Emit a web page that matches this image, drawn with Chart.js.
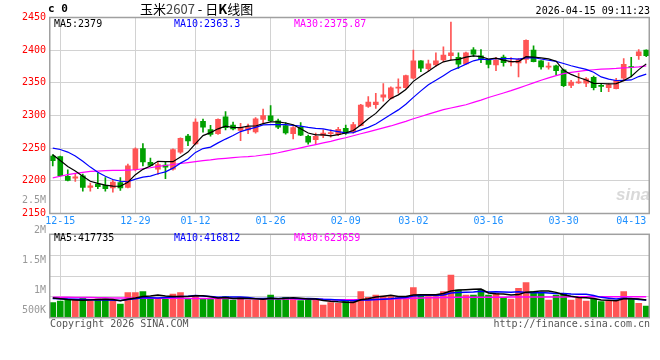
<!DOCTYPE html>
<html>
<head>
<meta charset="utf-8">
<script src="https://cdn.jsdelivr.net/npm/chart.js@4.4.1/dist/chart.umd.min.js"></script>
<style>
html, body { margin: 0; padding: 0; background: #fff; }
#wrap { position: relative; width: 660px; height: 360px; overflow: hidden; background: #fff; }
#kline { position: absolute; left: 0; top: 0; }
#vol { position: absolute; left: 0; top: 190px; }
.t { position: absolute; white-space: nowrap; font-family: "DejaVu Sans Mono", monospace; font-size: 10px; line-height: 12px; color: #000; }
.cjk { font-family: "Noto Sans CJK SC", sans-serif; }
</style>
</head>
<body>
<div id="wrap">
  <canvas id="kline" width="660" height="232"></canvas>
  <canvas id="vol" width="660" height="170"></canvas>

  <div class="t" style="left:48px;top:3px;font-size:11px;font-weight:bold;">c 0</div>
  <div class="t cjk" style="left:140px;top:1px;font-size:13px;line-height:16px;">玉米<span style="color:#444">2607</span> - 日<b>K</b>线图</div>
  <div class="t" style="right:10px;top:5px;">2026-04-15 09:11:23</div>

  <div class="t" style="left:54px;top:18px;color:#000;">MA5:2379</div>
  <div class="t" style="left:174px;top:18px;color:#0000ff;">MA10:2363.3</div>
  <div class="t" style="left:294px;top:18px;color:#ff00ff;">MA30:2375.87</div>

  <div class="t" style="left:54px;top:232px;color:#000;">MA5:417735</div>
  <div class="t" style="left:174px;top:232px;color:#0000ff;">MA10:416812</div>
  <div class="t" style="left:294px;top:232px;color:#ff00ff;">MA30:623659</div>

  <div class="t" style="left:616px;top:186px;font-family:'Liberation Sans',sans-serif;font-size:17px;line-height:18px;font-style:italic;font-weight:bold;color:rgba(170,170,170,0.45);">sina</div>

  <div class="t" style="left:50px;top:318px;color:#555;">Copyright 2026 SINA.COM</div>
  <div class="t" style="right:10px;top:318px;color:#555;">http://finance.sina.com.cn</div>
</div>

<script>
// trading days shown
const dates = [
  '12-12', '12-15', '12-16', '12-17', '12-18', '12-19', '12-22', '12-23', '12-24', '12-25',
  '12-26', '12-29', '12-30', '12-31', '01-05', '01-06', '01-07', '01-08', '01-09', '01-12',
  '01-13', '01-14', '01-15', '01-16', '01-19', '01-20', '01-21', '01-22', '01-23', '01-26',
  '01-27', '01-28', '01-29', '01-30', '02-02', '02-03', '02-04', '02-05', '02-06', '02-09',
  '02-10', '02-11', '02-12', '02-13', '02-24', '02-25', '02-26', '02-27', '03-02', '03-03',
  '03-04', '03-05', '03-06', '03-09', '03-10', '03-11', '03-12', '03-13', '03-16', '03-17',
  '03-18', '03-19', '03-20', '03-23', '03-24', '03-25', '03-26', '03-27', '03-30', '03-31',
  '04-01', '04-02', '04-03', '04-07', '04-08', '04-09', '04-10', '04-13', '04-14', '04-15'
];

const opens = [
  2238, 2237, 2207, 2204, 2207.5, 2190, 2195, 2193, 2189, 2197.5,
  2190, 2217, 2249.5, 2228.5, 2218, 2224, 2218, 2244, 2268.5, 2256.5,
  2291, 2278.5, 2272, 2298, 2285.5, 2277, 2278, 2275, 2294, 2299.5,
  2292, 2284.5, 2272, 2282, 2268, 2263, 2269.5, 2272, 2271, 2280.5,
  2275, 2284.5, 2314, 2316.5, 2328, 2326, 2342, 2342.5, 2357, 2383.5,
  2371.5, 2377.5, 2385, 2391.5, 2389, 2379, 2400.5, 2391.5, 2384.5, 2377.5,
  2389.5, 2381.5, 2380.5, 2386, 2400, 2383.5, 2374, 2376, 2370, 2346,
  2350, 2349.5, 2358.5, 2345.5, 2342.5, 2341, 2357, 2374.5, 2391.5, 2400
];
const highs = [
  2240, 2238, 2217, 2210, 2210.5, 2196.5, 2212, 2205, 2201.5, 2205,
  2225.5, 2250.5, 2257, 2235, 2229, 2229, 2249, 2266, 2271, 2295,
  2294.5, 2285, 2295, 2306, 2290, 2288, 2287, 2297, 2310, 2315,
  2294.5, 2289, 2283, 2289, 2270, 2273, 2278, 2278, 2282, 2285.5,
  2289.5, 2317, 2329, 2334, 2349, 2344, 2356, 2362, 2400, 2384,
  2385, 2396, 2405, 2443, 2396, 2397, 2404, 2401, 2386, 2389,
  2392.5, 2388.5, 2387.5, 2416, 2406.5, 2384, 2381, 2377, 2371, 2354,
  2365, 2358, 2360.5, 2348, 2349, 2357, 2387, 2389, 2401, 2400.5
];
const lows = [
  2223, 2207, 2200, 2199, 2184, 2184, 2188, 2184, 2182.5, 2185.5,
  2189, 2215, 2223, 2223, 2210, 2203.5, 2216.5, 2242, 2254, 2255.5,
  2274.5, 2268.5, 2271, 2278, 2278, 2261.5, 2272, 2273, 2288, 2290.5,
  2280, 2271.5, 2264, 2269, 2256, 2257, 2266, 2267, 2269, 2271,
  2273, 2284, 2312.5, 2311, 2322, 2325, 2334, 2341.5, 2356, 2367,
  2368, 2375, 2382, 2385, 2372, 2378, 2390.5, 2381, 2373, 2368.5,
  2375.5, 2376, 2359, 2380, 2382, 2371, 2371, 2362, 2344, 2342.5,
  2349, 2344, 2339, 2336.5, 2336.5, 2340.5, 2353, 2359, 2386, 2390
];
const closes = [
  2231, 2208, 2200.5, 2206, 2190, 2192.5, 2191, 2188, 2198, 2189,
  2223, 2249, 2229, 2223.5, 2225, 2221, 2248, 2265, 2261, 2290,
  2282, 2271, 2294, 2281.5, 2279.5, 2281.5, 2282, 2295, 2300, 2292,
  2282, 2273.5, 2281.5, 2270, 2259, 2268, 2273, 2274, 2279, 2273,
  2286, 2316, 2320.5, 2320.5, 2331.5, 2342.5, 2343, 2361, 2383.5, 2372.5,
  2379, 2383.5, 2392.5, 2396, 2378.5, 2396, 2394, 2386, 2378, 2385,
  2381, 2383, 2386, 2415, 2382.5, 2374.5, 2375, 2368.5, 2345.5, 2351,
  2351, 2356, 2342.5, 2344.5, 2347.5, 2354, 2378.5, 2373.5, 2397.5, 2391.5
];

const ma5 = [
  2240, 2231, 2222, 2215, 2207.1, 2199.4, 2196, 2193.5, 2191.9, 2191.7,
  2197.8, 2209.4, 2217.6, 2222.7, 2229.9, 2229.5, 2229.3, 2236.5, 2244, 2257,
  2269.2, 2273.8, 2279.6, 2283.7, 2281.6, 2281.5, 2283.7, 2283.9, 2287.6, 2290.1,
  2290.2, 2288.5, 2285.8, 2279.8, 2273.2, 2270.4, 2270.3, 2268.8, 2270.6, 2273.4,
  2277, 2285.6, 2294.9, 2303.2, 2314.9, 2326.2, 2331.6, 2339.7, 2352.3, 2360.5,
  2367.8, 2375.9, 2382.2, 2384.7, 2385.9, 2389.3, 2391.4, 2390.1, 2386.5, 2387.8,
  2384.8, 2382.6, 2382.6, 2390, 2389.5, 2388.2, 2386.6, 2383.1, 2369.2, 2362.9,
  2358.2, 2354.4, 2349.2, 2349, 2348.3, 2348.9, 2353.4, 2359.6, 2370.2, 2379
];
const ma10 = [
  2250, 2248, 2244, 2238, 2230, 2221, 2213, 2207, 2202, 2199.4,
  2198.6, 2202.7, 2205.6, 2207.3, 2210.8, 2213.7, 2219.4, 2227.1, 2233.4, 2243.5,
  2249.4, 2251.6, 2258.1, 2263.9, 2269.3, 2275.4, 2278.8, 2281.8, 2285.7, 2285.9,
  2285.9, 2286.1, 2284.9, 2283.7, 2281.7, 2280.3, 2279.4, 2277.3, 2275.2, 2273.3,
  2273.7, 2278, 2281.9, 2286.9, 2294.2, 2301.6, 2308.6, 2317.3, 2327.8, 2337.7,
  2347, 2353.8, 2361, 2368.5, 2373.2, 2378.6, 2383.7, 2386.2, 2385.6, 2386.9,
  2387.1, 2387, 2386.4, 2388.3, 2388.7, 2386.5, 2384.6, 2382.9, 2379.6, 2376.2,
  2373.2, 2370.5, 2366.2, 2359.1, 2355.6, 2353.6, 2353.9, 2354.4, 2359.6, 2363.3
];
const ma30 = [
  2204.5, 2207, 2209.5, 2211.5, 2213, 2214.5, 2215, 2215.5, 2216, 2216,
  2216.5, 2217, 2218.5, 2220, 2222, 2223.5, 2225, 2226.5, 2228, 2229.5,
  2231, 2232, 2233.5, 2234.5, 2235.5, 2236.5, 2237, 2238, 2239.5, 2241,
  2243, 2245.5, 2248, 2250.5, 2253, 2255.5, 2258, 2260.5, 2263.5, 2266,
  2269, 2272, 2275, 2278, 2281, 2284, 2287.5, 2291, 2295, 2298.5,
  2302, 2305.5, 2309, 2311.5, 2314, 2316.5, 2320, 2323.5, 2327.5, 2331,
  2334.5, 2338, 2342, 2346, 2350, 2354, 2357.5, 2361, 2364, 2366,
  2367.5, 2369, 2370, 2371, 2371.5, 2372, 2373, 2373.5, 2374.5, 2375.87
];

const volumes = [
  800000, 828000, 845000, 845000, 884000, 828000, 862000, 862000, 828000, 778000,
  967000, 967000, 984000, 862000, 862000, 873000, 945000, 967000, 873000, 917000,
  873000, 862000, 873000, 901000, 845000, 889000, 845000, 845000, 873000, 928000,
  845000, 889000, 873000, 834000, 873000, 845000, 762000, 800000, 789000, 845000,
  828000, 984000, 889000, 928000, 912000, 901000, 889000, 889000, 1051000, 928000,
  901000, 901000, 984000, 1262000, 1012000, 928000, 928000, 1012000, 928000, 956000,
  889000, 862000, 1040000, 1134000, 984000, 967000, 845000, 928000, 945000, 845000,
  873000, 828000, 862000, 817000, 828000, 828000, 984000, 873000, 789000, 745000
];
const volMa5 = [
  880000, 865000, 852000, 845000, 840000, 846000, 853000, 856000, 853000, 832000,
  859000, 880000, 905000, 912000, 928000, 910000, 905000, 902000, 904000, 915000,
  915000, 898000, 880000, 885000, 871000, 874000, 871000, 865000, 859000, 876000,
  867000, 876000, 882000, 874000, 863000, 863000, 837000, 823000, 814000, 808000,
  805000, 849000, 867000, 895000, 908000, 923000, 904000, 904000, 928000, 932000,
  932000, 934000, 953000, 995000, 1012000, 1017000, 1023000, 1028000, 962000, 950000,
  943000, 929000, 935000, 976000, 982000, 997000, 994000, 972000, 934000, 906000,
  887000, 884000, 871000, 845000, 842000, 833000, 864000, 866000, 860000, 844000
];
const volMa10 = [
  868000, 864000, 860000, 857000, 855000, 851000, 847000, 843000, 839000, 836000,
  853000, 867000, 881000, 882000, 880000, 885000, 893000, 903000, 908000, 922000,
  912000, 902000, 891000, 895000, 893000, 895000, 885000, 872000, 872000, 873000,
  871000, 873000, 873000, 867000, 869000, 865000, 857000, 852000, 844000, 836000,
  834000, 843000, 845000, 854000, 858000, 864000, 877000, 885000, 912000, 920000,
  927000, 919000, 928000, 962000, 972000, 975000, 978000, 991000, 978000, 981000,
  980000, 976000, 982000, 969000, 966000, 970000, 962000, 953000, 955000, 944000,
  942000, 939000, 921000, 889000, 874000, 860000, 874000, 868000, 853000, 843000
];
const volMa30 = [
  890000, 889000, 889000, 888000, 887000, 886000, 884000, 882000, 880000, 878000,
  877000, 876000, 875000, 874000, 874000, 873000, 873000, 873000, 872000, 872000,
  872000, 871000, 871000, 870000, 870000, 869000, 868000, 867000, 866000, 865000,
  864000, 862000, 860000, 858000, 856000, 854000, 852000, 850000, 849000, 848000,
  848000, 849000, 851000, 854000, 858000, 862000, 866000, 870000, 874000, 878000,
  881000, 884000, 886000, 888000, 889000, 890000, 890000, 891000, 891000, 892000,
  892000, 893000, 893000, 894000, 894000, 895000, 895000, 896000, 897000, 898000,
  899000, 900000, 900000, 901000, 901000, 901000, 901000, 901000, 901000, 901000
];

const priceTicks = [2150, 2200, 2250, 2300, 2350, 2400, 2450];
const dateTicks = ['12-15', '12-29', '01-12', '01-26', '02-09', '03-02', '03-16', '03-30', '04-13'];
const gridDates = ['12-15', '12-29', '01-12', '01-26', '02-09', '03-02', '03-16', '03-30'];
const volTicks = [500000, 1000000, 1500000, 2000000, 2500000];
const volTickLabels = ['500K', '1M', '1.5M', '2M', '2.5M'];

const UP = '#ff5555';
const DOWN = '#00a000';
const GRID = '#d2d2d2';
const MONO = '"DejaVu Sans Mono", monospace';

const candleColors = closes.map((c, i) => c >= opens[i] ? UP : DOWN);
const bodies = dates.map((d, i) => [opens[i], closes[i]]);
const wicks = dates.map((d, i) => [lows[i], highs[i]]);

const dateGridColor = (ctx) => gridDates.includes(dates[ctx.index]) ? GRID : 'rgba(0,0,0,0)';

// gray frame around each plot area
const frame = {
  id: 'frame',
  afterDraw(chart) {
    const { ctx, chartArea: a } = chart;
    ctx.save();
    ctx.strokeStyle = '#a0a0a0';
    ctx.lineWidth = 1.5;
    ctx.strokeRect(a.left + 0.75, a.top, a.right - a.left - 1.5, a.bottom - a.top);
    ctx.restore();
  }
};

// volume axis labels, Sina style: drawn from the scale even above the panel
const volLabels = {
  id: 'volLabels',
  afterDraw(chart) {
    const s = chart.scales.y;
    const ctx = chart.ctx;
    ctx.save();
    ctx.font = '10px ' + MONO;
    ctx.fillStyle = '#999';
    ctx.textAlign = 'right';
    ctx.textBaseline = 'middle';
    volTicks.forEach((v, i) => {
      const y = Math.min(s.getPixelForValue(v), chart.chartArea.bottom - 7);
      ctx.fillText(volTickLabels[i], s.right - 3, y);
    });
    ctx.restore();
  }
};

const lineSet = (data, color, width) => ({
  type: 'line',
  data: data,
  borderColor: color,
  borderWidth: width,
  pointRadius: 0,
  tension: 0,
  order: 0
});

const kline = new Chart(document.getElementById('kline').getContext('2d'), {
  type: 'bar',
  data: {
    labels: dates,
    datasets: [
      lineSet(ma5, '#000000', 1.2),
      lineSet(ma10, '#0000ff', 1.2),
      lineSet(ma30, '#ff00ff', 1.2),
      {
        data: bodies,
        backgroundColor: candleColors,
        barThickness: 5,
        minBarLength: 1,
        grouped: false,
        order: 1
      },
      {
        data: wicks,
        backgroundColor: candleColors,
        barThickness: 1,
        grouped: false,
        order: 2
      }
    ]
  },
  options: {
    responsive: false,
    animation: false,
    layout: { padding: { top: 17.5, right: 10, left: 0, bottom: 0 } },
    plugins: { legend: { display: false }, tooltip: { enabled: false } },
    scales: {
      x: {
        offset: true,
        grid: { offset: false, color: dateGridColor, lineWidth: 1, drawTicks: false },
        border: { display: false },
        ticks: {
          autoSkip: false,
          maxRotation: 0,
          padding: 2,
          color: '#1e90ff',
          font: { family: MONO, size: 10 },
          callback: (v, i) => dateTicks.includes(dates[i]) ? dates[i] : ''
        },
        afterFit: (s) => { s.height = 18.5; }
      },
      y: {
        min: 2150,
        max: 2450,
        afterBuildTicks: (s) => { s.ticks = priceTicks.map(v => ({ value: v })); },
        grid: { color: GRID, lineWidth: 1, drawTicks: false },
        border: { display: false },
        ticks: {
          color: '#ff0000',
          padding: 3,
          font: { family: MONO, size: 10 },
          callback: (v) => String(v)
        },
        afterFit: (s) => { s.width = 49; }
      }
    }
  },
  plugins: [frame]
});

const VMIN = 550000;
const VMAX = 1940000;

const vol = new Chart(document.getElementById('vol').getContext('2d'), {
  type: 'bar',
  data: {
    labels: dates,
    datasets: [
      lineSet(volMa5, '#000000', 1.5),
      lineSet(volMa10, '#0000ff', 1.5),
      lineSet(volMa30, '#ff00ff', 1.5),
      {
        data: volumes,
        backgroundColor: candleColors,
        barThickness: 6,
        order: 1
      }
    ]
  },
  options: {
    responsive: false,
    animation: false,
    layout: { padding: { top: 44.3, right: 10, left: 0, bottom: 0 } },
    plugins: { legend: { display: false }, tooltip: { enabled: false } },
    scales: {
      x: {
        offset: true,
        grid: { offset: false, color: dateGridColor, lineWidth: 1, drawTicks: false },
        border: { display: false },
        ticks: { display: false, autoSkip: false },
        afterFit: (s) => { s.height = 42.3; }
      },
      y: {
        min: VMIN,
        max: VMAX,
        afterBuildTicks: (s) => {
          s.ticks = [0, 1, 2, 3, 4].map(k => ({ value: VMIN + k * (VMAX - VMIN) / 4 }));
        },
        grid: { color: GRID, lineWidth: 1, drawTicks: false },
        border: { display: false },
        ticks: { display: false },
        afterFit: (s) => { s.width = 49; }
      }
    }
  },
  plugins: [frame, volLabels]
});
</script>
</body>
</html>
